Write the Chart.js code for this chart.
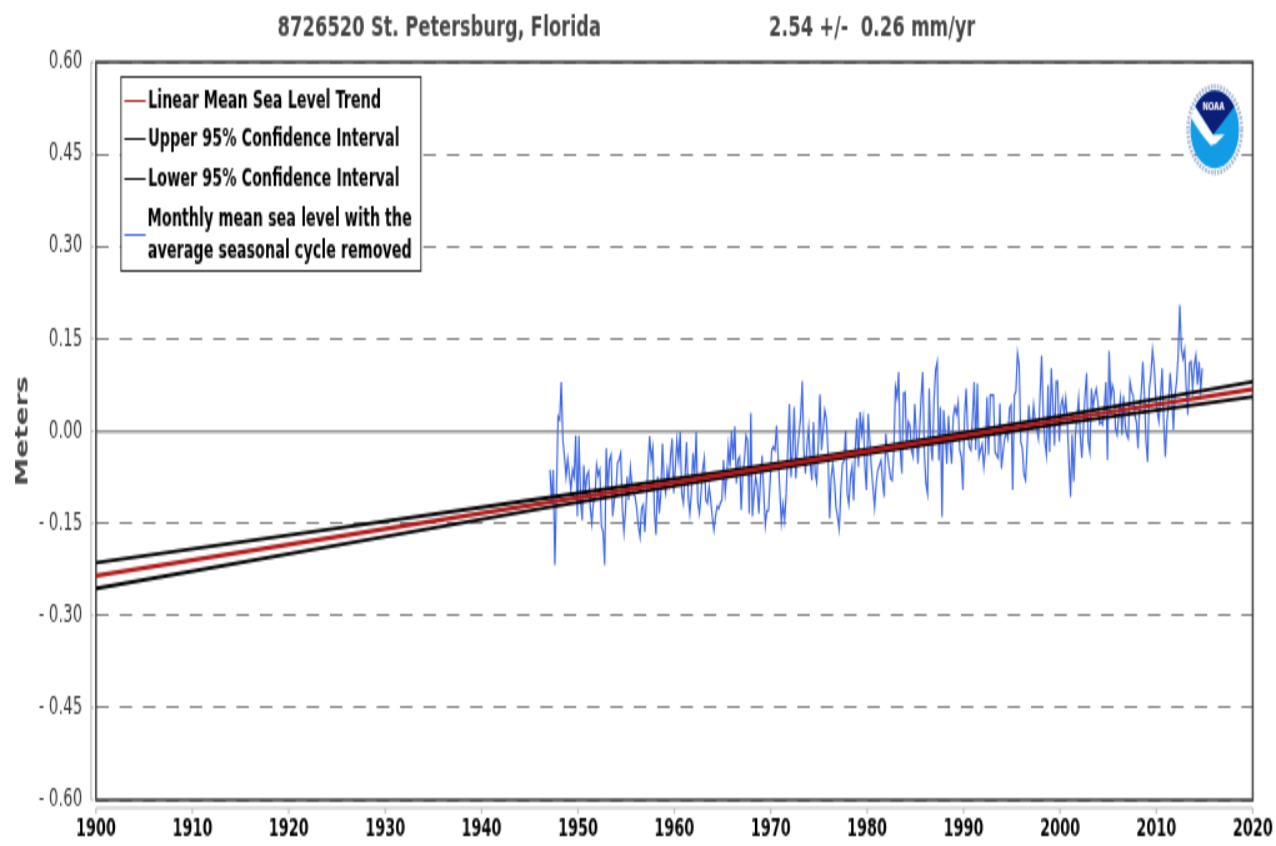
<!DOCTYPE html>
<html>
<head>
<meta charset="utf-8">
<title>8726520 St. Petersburg, Florida</title>
<script src="https://cdn.jsdelivr.net/npm/chart.js@4"></script>
<style>
    html, body { margin: 0; padding: 0; background: #fff; }
    body { width: 1276px; height: 846px; }
    html { overflow: hidden; }
    /* the original picture is a small plot stretched up, so do the same */
    #wrap { width: 1021px; height: 423px; transform-origin: 0 0; transform: scale(1.2497, 2); }
</style>
</head>
<body>
<div id="wrap"><canvas id="seaChart" width="1021" height="423"></canvas></div>
<script>
// Data
const trendYears = [1900, 1925, 1947, 1965, 1980, 2000, 2020];
const trendLevels = [-0.235, -0.172, -0.116, -0.071, -0.033, 0.018, 0.068];
// the confidence band pinches in around the middle of the record
const upperLevels = [-0.214, -0.158, -0.108, -0.066, -0.0295, 0.024, 0.080];
const lowerLevels = [-0.256, -0.186, -0.124, -0.076, -0.0365, 0.012, 0.056];

// sampled every two months, starting 1947.1
const seaStartYear = 1947.1;
const seaLevels = [
    -0.063, -0.117, -0.063, -0.218, -0.100, 0.023, 0.018, 0.080, -0.015, -0.042,
    -0.074, -0.045, -0.070, -0.096, -0.063, -0.075, -0.007, -0.139, -0.007, -0.112,
    -0.145, -0.055, -0.101, -0.072, -0.066, -0.123, -0.150, -0.117, -0.107, -0.055,
    -0.072, -0.063, -0.155, -0.164, -0.218, -0.028, -0.096, -0.047, -0.039, -0.139,
    -0.112, -0.101, -0.052, -0.047, -0.036, -0.123, -0.164, -0.128, -0.074, -0.112,
    -0.060, -0.088, -0.101, -0.107, -0.126, -0.155, -0.172, -0.126, -0.120, -0.164,
    -0.112, -0.055, -0.008, -0.047, -0.028, -0.134, -0.169, -0.074, -0.134, -0.101,
    -0.020, -0.085, -0.101, -0.063, -0.085, -0.042, -0.012, -0.101, -0.058, -0.015,
    -0.047, -0.002, -0.101, -0.117, -0.074, -0.018, -0.107, -0.134, -0.101, -0.036,
    -0.074, -0.002, -0.117, -0.134, -0.101, -0.063, -0.044, -0.112, -0.117, -0.090,
    -0.112, -0.139, -0.161, -0.139, -0.123, -0.126, -0.117, -0.112, -0.047, -0.101,
    -0.074, -0.025, -0.058, 0.001, -0.047, 0.007, -0.085, -0.047, -0.042, -0.128,
    -0.069, -0.047, -0.007, -0.015, -0.134, 0.029, -0.139, -0.101, -0.074, -0.090,
    -0.134, -0.075, -0.040, -0.100, -0.153, -0.130, -0.129, -0.080, -0.031, -0.026,
    -0.031, 0.009, -0.042, -0.096, -0.148, -0.119, -0.145, -0.102, -0.031, 0.044,
    -0.075, -0.031, 0.039, -0.077, -0.031, -0.004, 0.023, 0.081, -0.031, -0.069,
    -0.021, 0.006, -0.053, -0.080, 0.015, -0.069, -0.083, -0.021, 0.059, -0.031,
    0.001, 0.034, 0.020, -0.031, -0.142, -0.075, -0.053, -0.080, -0.124, -0.140,
    -0.159, -0.096, -0.053, -0.049, 0.001, -0.102, -0.119, -0.075, -0.058, -0.113,
    -0.031, 0.020, -0.058, 0.031, -0.004, 0.020, -0.058, -0.096, 0.028, -0.015,
    -0.058, -0.091, -0.124, -0.086, -0.064, -0.056, -0.048, -0.080, -0.107, -0.004,
    -0.037, -0.058, -0.077, -0.080, -0.031, 0.071, 0.055, 0.096, -0.031, -0.069,
    0.061, 0.063, -0.031, 0.015, 0.009, -0.031, -0.042, 0.044, -0.004, -0.053,
    0.001, 0.055, 0.096, -0.037, -0.086, -0.102, 0.069, -0.021, -0.048, 0.050,
    0.099, 0.112, -0.048, 0.039, -0.140, 0.034, -0.004, -0.053, 0.025, -0.021,
    -0.053, 0.023, 0.039, 0.028, 0.047, -0.031, -0.042, -0.096, 0.023, 0.069,
    -0.004, -0.026, -0.031, 0.023, 0.080, -0.031, 0.077, -0.042, -0.031, -0.021,
    -0.058, -0.031, 0.055, -0.039, 0.058, 0.058, 0.058, -0.034, -0.039, -0.044,
    0.045, -0.061, -0.034, -0.012, -0.001, -0.012, 0.037, 0.042, -0.096, 0.058,
    0.064, 0.126, 0.107, -0.017, -0.028, -0.071, -0.080, -0.023, 0.042, 0.004,
    0.004, 0.042, 0.015, 0.004, -0.012, 0.058, 0.123, 0.031, -0.017, -0.039,
    0.075, -0.034, 0.102, 0.048, -0.023, 0.080, 0.080, -0.017, 0.042, 0.053,
    0.026, 0.053, 0.015, -0.050, -0.107, -0.006, -0.082, -0.006, 0.021, 0.053,
    -0.006, -0.044, 0.004, 0.058, 0.094, -0.017, -0.034, 0.069, 0.037, 0.058,
    0.069, 0.048, 0.012, 0.015, 0.010, 0.037, 0.080, -0.047, 0.130, 0.048,
    0.075, 0.064, 0.004, -0.006, 0.026, 0.053, -0.006, 0.058, 0.010, -0.006,
    -0.012, 0.080, 0.064, 0.058, 0.026, 0.015, -0.028, 0.037, 0.061, 0.113,
    0.058, -0.017, -0.050, 0.069, 0.091, 0.132, 0.107, 0.058, 0.031, 0.015,
    0.058, 0.102, 0.015, -0.042, 0.015, 0.042, 0.094, 0.058, 0.002, 0.058,
    0.080, 0.123, 0.205, 0.134, 0.118, 0.132, 0.069, 0.026, 0.110, 0.113,
    0.069, 0.107, 0.123, 0.075, 0.113, 0.067, 0.102
];

const yTickValues = [-0.60, -0.45, -0.30, -0.15, 0, 0.15, 0.30, 0.45, 0.60];
const legendLabels = [
    'Linear Mean Sea Level Trend',
    'Upper 95% Confidence Interval',
    'Lower 95% Confidence Interval'
];
const legendLabelBlue = ['Monthly mean sea level with the', 'average seasonal cycle removed'];

const chartFont = '"DejaVu Sans"';

// Offset axis lines and dark frame, same as the JFreeChart look
const framePlugin = {
    id: 'frame',
    beforeDatasetsDraw(chart) {
        const { ctx, chartArea: a, scales } = chart;
        ctx.save();
        ctx.strokeStyle = '#bdbdbd';
        ctx.lineWidth = 1.2;
        ctx.beginPath();
        ctx.moveTo(a.left - 4, a.top);
        ctx.lineTo(a.left - 4, a.bottom);
        ctx.moveTo(a.left, a.bottom + 4);
        ctx.lineTo(a.right, a.bottom + 4);
        yTickValues.forEach(v => {
            const y = scales.y.getPixelForValue(v);
            ctx.moveTo(a.left - 4, y);
            ctx.lineTo(a.left - 2, y);
        });
        scales.x.ticks.forEach(t => {
            const x = scales.x.getPixelForValue(t.value);
            ctx.moveTo(x, a.bottom + 4);
            ctx.lineTo(x, a.bottom + 7);
        });
        ctx.stroke();
        ctx.strokeStyle = '#3c3c3c';
        ctx.lineWidth = 1.5;
        ctx.strokeRect(a.left, a.top, a.right - a.left, a.bottom - a.top);
        ctx.restore();
    }
};

// Legend box inside the plot
const legendBoxPlugin = {
    id: 'legendBox',
    afterDatasetsDraw(chart) {
        const ctx = chart.ctx;
        ctx.save();
        ctx.fillStyle = '#fff';
        ctx.fillRect(96.8, 38.5, 240, 97);
        ctx.strokeStyle = '#333';
        ctx.lineWidth = 1;
        ctx.strokeRect(96.8, 38.5, 240, 97);

        const rows = [
            { y: 50.5, color: '#b22222', text: legendLabels[0] },
            { y: 69.5, color: '#111', text: legendLabels[1] },
            { y: 89.5, color: '#111', text: legendLabels[2] }
        ];
        ctx.font = 'bold 11.5px ' + chartFont;
        ctx.textBaseline = 'middle';
        rows.forEach(r => {
            ctx.strokeStyle = r.color;
            ctx.lineWidth = 1;
            ctx.beginPath();
            ctx.moveTo(99.5, r.y);
            ctx.lineTo(116.5, r.y);
            ctx.stroke();
            ctx.fillStyle = '#000';
            ctx.textAlign = 'left';
            ctx.fillText(r.text, 118.4, r.y + 1);
        });
        ctx.strokeStyle = '#4169e1';
        ctx.lineWidth = 1;
        ctx.beginPath();
        ctx.moveTo(99.5, 117.5);
        ctx.lineTo(116.5, 117.5);
        ctx.stroke();
        ctx.fillStyle = '#000';
        ctx.textAlign = 'right';
        ctx.fillText(legendLabelBlue[0], 329.6, 110.4);
        ctx.fillText(legendLabelBlue[1], 329.6, 126.2);
        ctx.restore();
    }
};

// NOAA logo in the top right corner
const logoPlugin = {
    id: 'logo',
    afterDatasetsDraw(chart) {
        const ctx = chart.ctx;
        const cx = 972, cy = 64.8;
        ctx.save();
        ctx.strokeStyle = '#a8b6cf';
        ctx.lineWidth = 2.5;
        ctx.setLineDash([1.5, 1]);
        ctx.beginPath();
        ctx.arc(cx, cy, 21.5, 0, Math.PI * 2);
        ctx.stroke();
        ctx.setLineDash([]);

        ctx.fillStyle = '#129ce6';
        ctx.beginPath();
        ctx.arc(cx, cy, 19.5, 0, Math.PI * 2);
        ctx.fill();

        ctx.fillStyle = '#0c1f78';
        ctx.beginPath();
        ctx.arc(cx, cy, 19.5, Math.PI * 1.2, Math.PI * 1.8);
        ctx.lineTo(cx - 1.4, cy + 2.7);
        ctx.closePath();
        ctx.fill();

        // white wing band
        ctx.fillStyle = '#fff';
        ctx.beginPath();
        ctx.moveTo(cx - 15.8, cy - 11.5);
        ctx.lineTo(cx - 1.4, cy + 2.7);
        ctx.lineTo(cx + 8, cy + 2.5);
        ctx.lineTo(cx + 1, cy + 7);
        ctx.lineTo(cx - 3, cy + 8);
        ctx.quadraticCurveTo(cx - 13, cy + 1, cx - 19, cy - 6);
        ctx.closePath();
        ctx.fill();

        ctx.fillStyle = '#fff';
        ctx.font = 'bold 5.5px ' + chartFont;
        ctx.textAlign = 'center';
        ctx.textBaseline = 'middle';
        ctx.fillText('NOAA', cx - 1, cy - 10.8);
        ctx.restore();
    }
};

function seaPoints() {
    return seaLevels.map((v, i) => ({ x: seaStartYear + i / 6, y: v }));
}

function linePoints(levels) {
    return trendYears.map((yr, i) => ({ x: yr, y: levels[i] }));
}

const isZero = v => Math.abs(v) < 1e-6;

new Chart(document.getElementById('seaChart').getContext('2d'), {
    type: 'line',
    data: {
        datasets: [
            { label: legendLabelBlue.join(' '), data: seaPoints(), borderColor: '#4169e1', borderWidth: 1.2, pointRadius: 0, order: 4 },
            { label: legendLabels[1], data: linePoints(upperLevels), borderColor: '#000', borderWidth: 1.8, pointRadius: 0, order: 2 },
            { label: legendLabels[2], data: linePoints(lowerLevels), borderColor: '#000', borderWidth: 1.8, pointRadius: 0, order: 3 },
            { label: legendLabels[0], data: linePoints(trendLevels), borderColor: '#b01c1c', borderWidth: 2.2, pointRadius: 0, order: 1 }
        ]
    },
    options: {
        responsive: false,
        animation: false,
        devicePixelRatio: 1,
        layout: { padding: { left: 0, right: 18.6, top: 0, bottom: 0 } },
        plugins: {
            legend: { display: false },
            tooltip: { enabled: false },
            title: {
                display: true,
                text: '8726520 St. Petersburg, Florida' + ' '.repeat(27) + '2.54 +/-  0.26 mm/yr',
                color: '#444',
                font: { family: chartFont, size: 14.3, weight: 'bold' },
                padding: { top: 5.6, bottom: 8.3 }
            }
        },
        scales: {
            x: {
                type: 'linear',
                min: 1900,
                max: 2020,
                afterFit: s => {
                    s.height = 23;
                    // keep the plot edge where the picture has it
                    s.paddingRight = 0;
                    s.paddingLeft = 0;
                },
                grid: { display: false, drawTicks: false },
                border: { display: false },
                ticks: {
                    stepSize: 10,
                    maxRotation: 0,
                    autoSkip: false,
                    padding: 8,
                    color: '#000',
                    font: { family: chartFont, size: 11.5, weight: 'bold' },
                    callback: v => String(v)
                }
            },
            y: {
                min: -0.6,
                max: 0.6,
                afterFit: s => { s.width = 76.8; },
                title: {
                    display: true,
                    text: 'Meters',
                    color: '#444',
                    font: { family: chartFont, size: 14, weight: 'bold' },
                    padding: { top: 10, bottom: 0 }
                },
                grid: {
                    drawTicks: false,
                    color: ctx => (ctx.tick && isZero(ctx.tick.value)) ? '#9a9a9a' : '#808080',
                    lineWidth: ctx => (ctx.tick && isZero(ctx.tick.value)) ? 1.6 : 1
                },
                border: {
                    display: false,
                    dash: ctx => (ctx.tick && isZero(ctx.tick.value)) ? [] : [10, 8.7]
                },
                ticks: {
                    stepSize: 0.15,
                    padding: 11,
                    color: '#333',
                    font: { family: chartFont, size: 12 },
                    callback: v => (v < -1e-6 ? '- ' : '') + Math.abs(v).toFixed(2)
                }
            }
        }
    },
    plugins: [framePlugin, legendBoxPlugin, logoPlugin]
});
</script>
</body>
</html>
